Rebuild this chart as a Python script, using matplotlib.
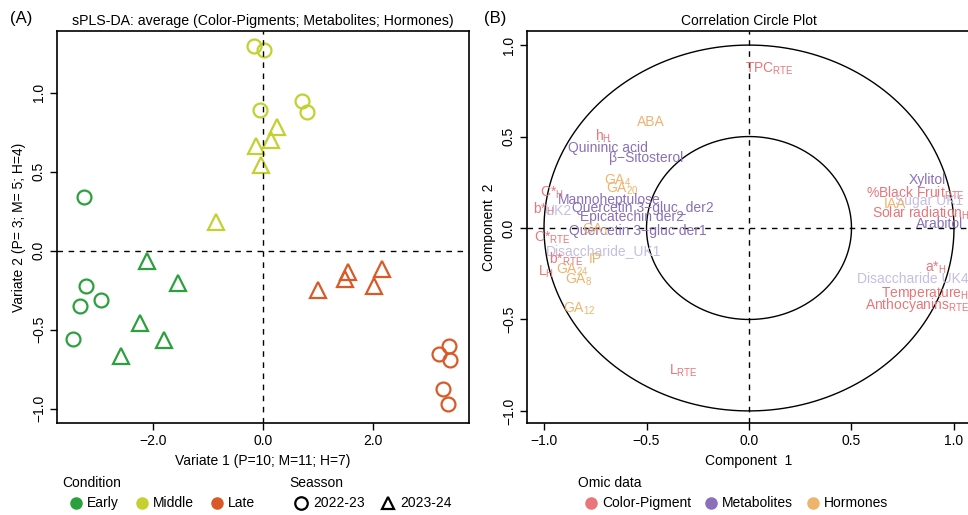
import matplotlib
matplotlib.use('Agg')
import matplotlib.pyplot as plt
import numpy as np

plt.rcParams['font.family'] = ['Liberation Sans', 'DejaVu Sans']
plt.rcParams['mathtext.fontset'] = 'custom'
plt.rcParams['mathtext.rm'] = 'Liberation Sans'
plt.rcParams['mathtext.it'] = 'Liberation Sans:italic'
plt.rcParams['font.size'] = 10

# ---------------- Panel A data (sPLS-DA sample scores) ----------------
conditions = ['Early', 'Middle', 'Late']
seasons = ['2022-23', '2023-24']

early_2223_x = [-3.27, -3.23, -3.34, -2.95, -3.46]
early_2223_y = [0.34, -0.226, -0.35, -0.31, -0.56]
early_2324_x = [-2.11, -1.56, -2.25, -1.80, -2.60]
early_2324_y = [-0.068, -0.205, -0.458, -0.563, -0.663]
middle_2223_x = [-0.16, 0.02, -0.05, 0.72, 0.80]
middle_2223_y = [1.295, 1.27, 0.89, 0.95, 0.88]
middle_2324_x = [0.25, 0.14, -0.13, -0.03, -0.85]
middle_2324_y = [0.78, 0.70, 0.66, 0.54, 0.18]
late_2223_x = [3.21, 3.40, 3.41, 3.29, 3.38]
late_2223_y = [-0.652, -0.60, -0.69, -0.873, -0.968]
late_2324_x = [1.01, 1.55, 1.49, 2.17, 2.03]
late_2324_y = [-0.247, -0.137, -0.18, -0.114, -0.226]

# ---------------- Panel B data (correlation circle) ----------------
var_names = [
    r'TPC$_{\mathrm{RTE}}$', 'ABA', r'h$_{\mathrm{H}}$', 'Quininic acid', 'β−Sitosterol',
    r'GA$_{4}$', r'GA$_{20}$', r'C*$_{\mathrm{H}}$', 'Mannoheptulose', r'b*$_{\mathrm{H}}$',
    'UK2', 'Quercetin 3−gluc_der2', 'Epicatechin der2', 'Quercetin 3−gluc der1',
    r'GA$_{1}$', r'C*$_{\mathrm{RTE}}$', 'Disaccharide_UK1', r'b*$_{\mathrm{RTE}}$', 'IP',
    r'L$_{\mathrm{H}}$', r'GA$_{24}$', r'GA$_{8}$', r'GA$_{12}$', r'L$_{\mathrm{RTE}}$',
    'Xylitol', r'%Black Fruit$_{\mathrm{RTE}}$', 'Sugar UK1', 'IAA',
    r'Solar radiation$_{\mathrm{H}}$', 'Arabitol', r'a*$_{\mathrm{H}}$',
    'Disaccharide UK4', r'Temperature$_{\mathrm{H}}$', r'Anthocyanins$_{\mathrm{RTE}}$',
]
var_comp1 = [
    0.10, -0.48, -0.71, -0.69, -0.50,
    -0.64, -0.62, -0.96, -0.68, -1.00,
    -0.93, -0.52, -0.57, -0.54,
    -0.75, -0.96, -0.71, -0.89, -0.75,
    -0.99, -0.86, -0.83, -0.83, -0.32,
    0.87, 0.81, 0.88, 0.71,
    0.84, 0.93, 0.91,
    0.80, 0.86, 0.82,
]
var_comp2 = [
    0.87, 0.58, 0.50, 0.44, 0.38,
    0.257, 0.213, 0.19, 0.153, 0.10,
    0.095, 0.11, 0.06, -0.015,
    -0.01, -0.055, -0.126, -0.17, -0.17,
    -0.24, -0.23, -0.285, -0.44, -0.78,
    0.26, 0.19, 0.15, 0.13,
    0.08, 0.02, -0.22,
    -0.28, -0.36, -0.42,
]
var_block = [
    'Color-Pigment', 'Hormones', 'Color-Pigment', 'Metabolites', 'Metabolites',
    'Hormones', 'Hormones', 'Color-Pigment', 'Metabolites', 'Color-Pigment',
    'Metabolites', 'Metabolites', 'Metabolites', 'Metabolites',
    'Hormones', 'Color-Pigment', 'Metabolites', 'Color-Pigment', 'Hormones',
    'Color-Pigment', 'Hormones', 'Hormones', 'Hormones', 'Color-Pigment',
    'Metabolites', 'Color-Pigment', 'Metabolites', 'Hormones',
    'Color-Pigment', 'Metabolites', 'Color-Pigment',
    'Metabolites', 'Color-Pigment', 'Color-Pigment',
]
omic_blocks = ['Color-Pigment', 'Metabolites', 'Hormones']

# ---------------- styles ----------------
cond_colors = {'Early': '#2CA03C', 'Middle': '#C2D12F', 'Late': '#D95A28'}
season_markers = {'2022-23': 'o', '2023-24': '^'}
block_colors = {'Color-Pigment': '#E8767A', 'Metabolites': '#8A70B8', 'Hormones': '#EEB46C'}
faded_labels = {'UK2', 'Disaccharide_UK1', 'Sugar UK1', 'Disaccharide UK4'}
faded_color = '#C5BEE2'

W, H = 968, 515
fig = plt.figure(figsize=(W / 100, H / 100), dpi=100)

def px_axes(x0, x1, ytop, ybot):
    return fig.add_axes([x0 / W, (H - ybot) / H, (x1 - x0) / W, (ybot - ytop) / H])

def style_axes(ax):
    ax.tick_params(direction='out', length=5, width=1, pad=3, labelsize=10)
    for lab in ax.get_yticklabels():
        lab.set_rotation(90)
        lab.set_va('center')
    for s in ax.spines.values():
        s.set_linewidth(1.2)

# ---------------- Panel A ----------------
axA = px_axes(57, 469, 31, 423)
groups = [
    ('Early', '2022-23', early_2223_x, early_2223_y),
    ('Early', '2023-24', early_2324_x, early_2324_y),
    ('Middle', '2022-23', middle_2223_x, middle_2223_y),
    ('Middle', '2023-24', middle_2324_x, middle_2324_y),
    ('Late', '2022-23', late_2223_x, late_2223_y),
    ('Late', '2023-24', late_2324_x, late_2324_y),
]
for cond, seas, xs, ys in groups:
    axA.plot(xs, ys, linestyle='none', marker=season_markers[seas],
             markersize=10 if seas == '2022-23' else 11, markerfacecolor='none',
             markeredgecolor=cond_colors[cond], markeredgewidth=1.6)
axA.axhline(0, color='black', linestyle=(0, (4, 4)), linewidth=1)
axA.axvline(0, color='black', linestyle=(0, (4, 4)), linewidth=1)
axA.set_xlim(-3.76, 3.76)
axA.set_ylim(-1.09, 1.39)
axA.set_xticks([-2, 0, 2])
axA.set_xticklabels(['\u22122.0', '0.0', '2.0'])
axA.set_yticks([-1, -0.5, 0, 0.5, 1])
axA.set_yticklabels(['\u22121.0', '\u22120.5', '0.0', '0.5', '1.0'])
axA.set_xlabel('Variate 1 (P=10; M=11; H=7)', fontsize=10, labelpad=4)
axA.set_ylabel('Variate 2 (P= 3; M= 5; H=4)', fontsize=10, labelpad=4)
axA.set_title('sPLS-DA: average (Color-Pigments; Metabolites; Hormones)', fontsize=10.2, pad=4)
style_axes(axA)

# ---------------- Panel B ----------------
axB = px_axes(527, 971, 31, 423)
t = np.linspace(0, 2 * np.pi, 400)
for r in (1.0, 0.5):
    axB.plot(r * np.cos(t), r * np.sin(t), color='black', linewidth=1)
axB.axhline(0, color='black', linestyle=(0, (4, 4)), linewidth=1)
axB.axvline(0, color='black', linestyle=(0, (4, 4)), linewidth=1)
for name, cx, cy, blk in zip(var_names, var_comp1, var_comp2, var_block):
    col = faded_color if name in faded_labels else block_colors[blk]
    axB.text(cx, cy, name, color=col, fontsize=10, ha='center', va='center')
axB.set_xlim(-1.083, 1.083)
axB.set_ylim(-1.066, 1.077)
axB.set_xticks([-1, -0.5, 0, 0.5, 1])
axB.set_xticklabels(['\u22121.0', '\u22120.5', '0.0', '0.5', '1.0'])
axB.set_yticks([-1, -0.5, 0, 0.5, 1])
axB.set_yticklabels(['\u22121.0', '\u22120.5', '0.0', '0.5', '1.0'])
axB.set_xlabel('Component  1', fontsize=10, labelpad=4)
axB.set_ylabel('Component  2', fontsize=10, labelpad=4)
axB.set_title('Correlation Circle Plot', fontsize=10, pad=4)
style_axes(axB)

# ---------------- overlay for panel letters and legends ----------------
ov = fig.add_axes([0, 0, 1, 1], facecolor='none')
ov.set_xlim(0, W)
ov.set_ylim(H, 0)
ov.axis('off')
ov.text(10, 18, '(A)', fontsize=12, ha='left', va='center')
ov.text(484, 18, '(B)', fontsize=12, ha='left', va='center')

# Condition legend
ov.text(62, 483, 'Condition', fontsize=10, ha='left', va='center')
for cond, xm in zip(conditions, [76, 142, 217]):
    ov.plot([xm], [503], marker='o', markersize=8, color=cond_colors[cond], linestyle='none')
    ov.text(xm + 11, 503, cond, fontsize=10, ha='left', va='center')
# Season legend
ov.text(289, 483, 'Seasson', fontsize=10, ha='left', va='center')
for seas, xm in zip(seasons, [301, 388]):
    ov.plot([xm], [503], marker=season_markers[seas], markersize=9,
            markerfacecolor='none', markeredgecolor='black', markeredgewidth=1.6, linestyle='none')
    ov.text(xm + 12, 503, seas, fontsize=10, ha='left', va='center')
# Omic legend
ov.text(578, 483, 'Omic data', fontsize=10, ha='left', va='center')
for blk, xm in zip(omic_blocks, [591, 711, 813]):
    ov.plot([xm], [503], marker='o', markersize=8, color=block_colors[blk], linestyle='none')
    ov.text(xm + 11, 503, blk, fontsize=10, ha='left', va='center')

fig.savefig('out.png', dpi=100)
